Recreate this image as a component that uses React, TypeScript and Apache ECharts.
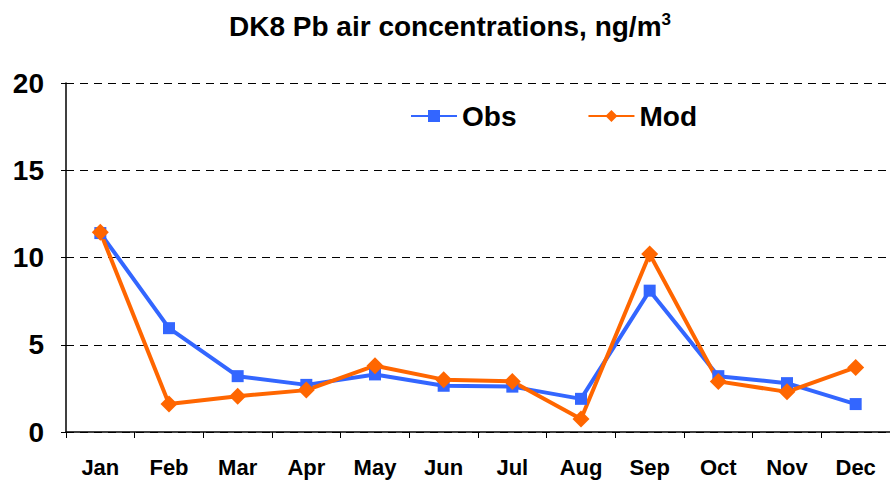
import React, { useEffect, useRef } from "react";
import * as echarts from "echarts";

const months = ["Jan", "Feb", "Mar", "Apr", "May", "Jun", "Jul", "Aug", "Sep", "Oct", "Nov", "Dec"];
const obs = [11.4, 5.95, 3.2, 2.7, 3.3, 2.65, 2.6, 1.9, 8.1, 3.2, 2.8, 1.6];
const mod = [11.45, 1.6, 2.05, 2.4, 3.8, 3.0, 2.9, 0.75, 10.2, 2.9, 2.3, 3.7];
const yTicks = [0, 5, 10, 15, 20];

export default function App() {
  const ref = useRef<HTMLDivElement>(null);
  useEffect(() => {
    const chart = echarts.init(ref.current!, null, { renderer: "svg" });
    const font = "Liberation Sans, Arial, sans-serif";
    chart.setOption({
      animation: false,
      backgroundColor: "#ffffff",
      title: {
        text: "{a|DK8 Pb air concentrations, ng/m}{b|3}",
        left: 224,
        top: 6,
        textStyle: {
          rich: {
            a: { fontFamily: font, fontWeight: "bold", fontSize: 28, color: "#000" },
            b: { fontFamily: font, fontWeight: "bold", fontSize: 17, color: "#000", verticalAlign: "top", padding: [0, 0, 14, 0] },
          },
        },
      },
      legend: {
        left: 405,
        top: 97,
        itemWidth: 46,
        itemHeight: 15,
        itemGap: 71,
        textStyle: { fontFamily: font, fontWeight: "bold", fontSize: 28, color: "#000" },
        data: ["Obs", "Mod"],
      },
      grid: { left: 66, right: -8, top: 83, bottom: 52, containLabel: false },
      xAxis: {
        type: "category",
        data: months,
        boundaryGap: true,
        axisLine: { lineStyle: { color: "#000", width: 1.5 } },
        axisTick: { show: true, inside: false, length: 6, lineStyle: { color: "#000" } },
        axisLabel: { fontFamily: font, fontWeight: "bold", fontSize: 22, color: "#000", margin: 24 },
      },
      yAxis: {
        type: "value",
        min: yTicks[0],
        max: yTicks[yTicks.length - 1],
        interval: 5,
        axisLine: { show: true, lineStyle: { color: "#000", width: 1.5 } },
        axisTick: { show: true, length: 5, lineStyle: { color: "#000" } },
        axisLabel: { fontFamily: font, fontWeight: "bold", fontSize: 28, color: "#000", margin: 22 },
        splitLine: { show: true, lineStyle: { color: "#000", type: [8, 6], width: 1 } },
      },
      series: [
        {
          name: "Obs",
          type: "line",
          data: obs,
          color: "#3366ff",
          symbol: "rect",
          symbolSize: 12,
          lineStyle: { width: 4, color: "#3366ff" },
          itemStyle: { color: "#3366ff" },
        },
        {
          name: "Mod",
          type: "line",
          data: mod,
          color: "#ff6600",
          symbol: "diamond",
          symbolSize: 17,
          lineStyle: { width: 4, color: "#ff6600" },
          itemStyle: { color: "#ff6600" },
        },
      ],
    });
    return () => chart.dispose();
  }, []);
  return <div ref={ref} style={{ position: "absolute", left: 0, top: 0, width: 890, height: 484 }} />;
}
